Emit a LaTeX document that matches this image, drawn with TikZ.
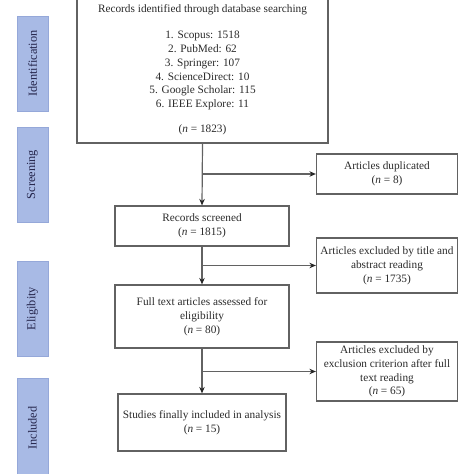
\documentclass[tikz,border=0pt]{standalone}
\usepackage{fontspec}
\setmainfont{Liberation Serif}
\usetikzlibrary{arrows.meta}
\definecolor{barfill}{HTML}{A8BAE5}
\definecolor{barline}{HTML}{95A8D9}
\definecolor{boxline}{HTML}{626262}
\definecolor{tipcol}{HTML}{262626}
\definecolor{txt}{HTML}{2A2A2A}
\begin{document}
\begin{tikzpicture}[x=1pt,y=-1pt,
  every node/.style={font=\fontsize{11.3}{13.8}\selectfont, text=txt, align=center},
  box/.style={draw=boxline, line width=1.2pt, inner sep=0pt},
  phase/.style={fill=barfill, draw=barline, line width=0.6pt, inner sep=0pt, minimum width=31pt},
  phasetext/.style={rotate=90, text=txt!85!blue, font=\fontsize{12.3}{14}\selectfont},
  conn/.style={draw=boxline, line width=1.2pt},
  arr/.style={conn, -{Stealth[length=6.5pt,width=5.5pt,color=tipcol]}}]
\useasboundingbox (0,0) rectangle (474,474);
% phase bars
\node[phase, minimum height=95pt] (idbar) at (32.5,63.5) {};
\node[phasetext] (idtxt) at (idbar.center) {Identification};
\node[phase, minimum height=95pt] (scbar) at (32.5,174.5) {};
\node[phasetext] (sctxt) at (scbar.center) {Screening};
\node[phase, minimum height=95pt] (elbar) at (32.5,308.5) {};
\node[phasetext] (eltxt) at (elbar.center) {Eligibity};
\node[phase, minimum height=100pt] (inbar) at (32.5,428) {};
\node[phasetext] (intxt) at (inbar.center) {Included};
% boxes
\node[box, minimum width=251pt, minimum height=146pt] (rec) at (202.5,70) {Records identified through database searching\\[12pt]
1. Scopus: 1518\\ 2. PubMed: 62\\ 3. Springer: 107\\ 4. ScienceDirect: 10\\ 5. Google Scholar: 115\\ 6. IEEE Explore: 11\\[11pt]
(\textit{n} = 1823)};
\node[box, minimum width=141pt, minimum height=40pt] (dup) at (387,174) {Articles duplicated\\ (\textit{n} = 8)};
\node[box, minimum width=174pt, minimum height=40pt] (scr) at (202,226) {Records screened\\ (\textit{n} = 1815)};
\node[box, minimum width=141pt, minimum height=55pt] (exa) at (387,265.5) {Articles excluded by title and\\ abstract reading\\ (\textit{n} = 1735)};
\node[box, minimum width=174pt, minimum height=63pt] (full) at (202,316.5) {Full text articles assessed for\\ eligibility\\ (\textit{n} = 80)};
\node[box, minimum width=141pt, minimum height=59pt] (exb) at (387,371.5) {Articles excluded by\\ exclusion criterion after full\\ text reading\\ (\textit{n} = 65)};
\node[box, minimum width=168pt, minimum height=57pt] (inc) at (202,422.5) {Studies finally included in analysis\\ (\textit{n} = 15)};
% connectors
\draw[arr] (rec.south) -- (scr.north);
\draw[arr] (rec.south |- dup.west) -- (dup.west);
\draw[arr] (scr.south) -- (full.north);
\draw[arr] (scr.south |- exa.west) -- (exa.west);
\draw[arr] (full.south) -- (inc.north);
\draw[arr] (full.south |- exb.west) -- (exb.west);
\end{tikzpicture}
\end{document}
